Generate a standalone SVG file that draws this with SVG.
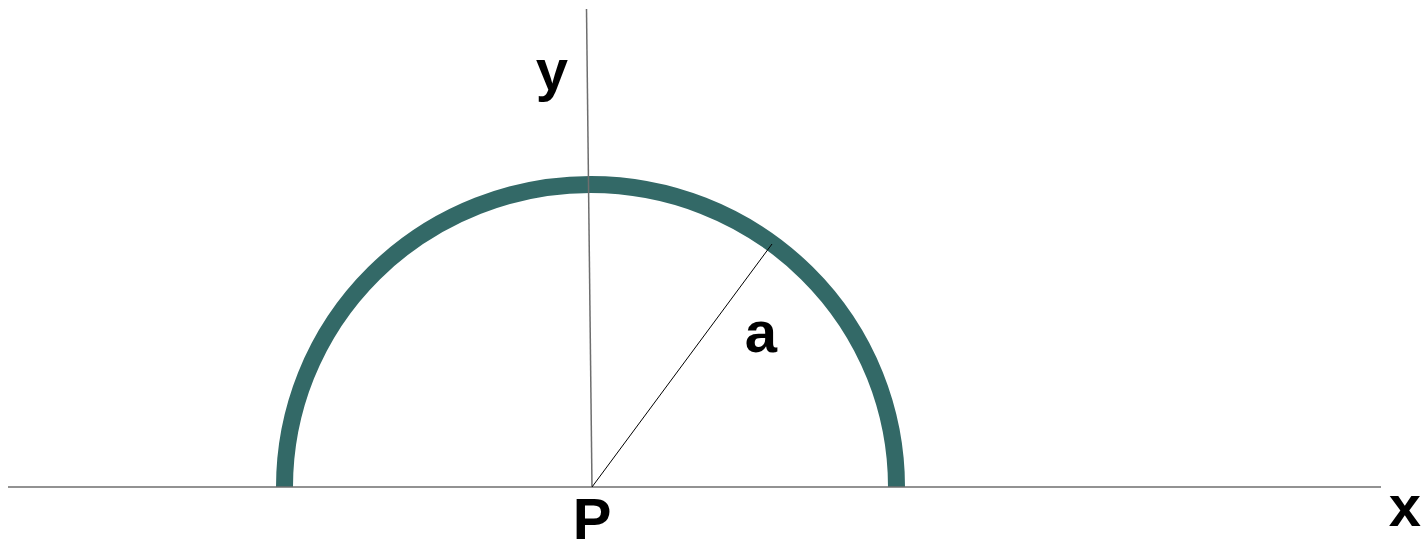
<svg xmlns="http://www.w3.org/2000/svg" width="1428" height="552" viewBox="0 0 1428 552">
<style>
.lbl{font-family:"Liberation Sans",Arial,sans-serif;font-weight:bold;font-size:58px;fill:#000;text-anchor:middle}
.axis{stroke:#6e6e6e;stroke-width:1.5;fill:none}
.thin{stroke:#000;stroke-width:1;fill:none}
</style>
<rect width="1428" height="552" fill="#fff"/>
<g id="arc">
<path d="M284.5,487 A306,302.5 0 0 1 896.5,487" fill="none" stroke="#336967" stroke-width="17"/>
</g>
<g id="connectors">
<line class="axis" x1="8" y1="487" x2="1381" y2="487"/>
<line class="axis" x1="586.5" y1="9" x2="592" y2="487" stroke="#444"/>
<line class="thin" x1="592" y1="487" x2="772" y2="244"/>
</g>
<g id="labels">
<text class="lbl" x="592" y="539">P</text>
<text class="lbl" x="552" y="90">y</text>
<text class="lbl" x="761" y="352">a</text>
<text class="lbl" x="1405" y="526">x</text>
</g>
</svg>
